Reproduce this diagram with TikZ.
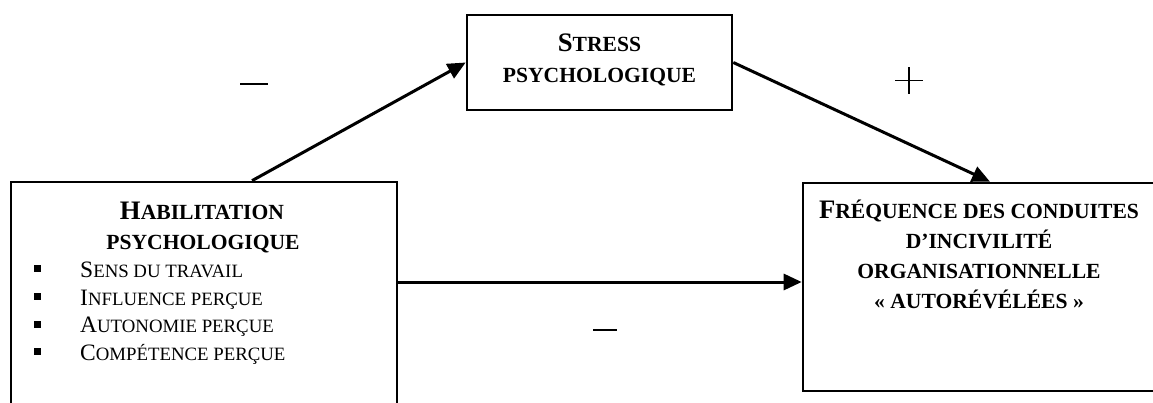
\documentclass[tikz,border=0pt]{standalone}
\usepackage{fontspec}
\setmainfont{Liberation Serif}
\usetikzlibrary{arrows.meta,calc}

% fake small capitals: large initial, smaller upper-case rest
\newcommand\hdbig[1]{{\fontsize{26.7pt}{30pt}\selectfont #1}}
\newcommand\hdsmall[1]{{\fontsize{21.6pt}{30pt}\selectfont #1}}
\newcommand\itbig[1]{{\fontsize{23.5pt}{28pt}\selectfont #1}}
\newcommand\itsmall[1]{{\fontsize{18.8pt}{28pt}\selectfont #1}}

\begin{document}
\begin{tikzpicture}[x=1pt,y=-1pt,
  box/.style={draw, line width=2.6pt, inner sep=0pt, rectangle},
  heading/.style={font=\bfseries, inner sep=0pt, anchor=base},
  itemtext/.style={inner sep=0pt, anchor=base west},
  bulletsq/.style={fill, inner sep=0pt, minimum size=7pt, rectangle},
  link/.style={line width=3pt, -{Triangle[length=18pt,width=16pt]}},
  sign/.style={line width=1.3pt}]
\useasboundingbox (0,0) rectangle (1153,403);
\clip (0,0) rectangle (1153,403);

% the three boxes
\node[box, minimum width=265pt, minimum height=95pt] (stress) at (599.5,62.5) {};
\node[box, minimum width=386pt, minimum height=238pt] (hab) at (204,301) {};
\node[box, minimum width=359pt, minimum height=208pt] (incivil) at (982.5,287) {};

% box titles
\node[heading] (st1) at (599.5,51.7) {\hdbig{S}\hdsmall{TRESS}};
\node[heading] (st2) at (599.5,82.7) {\hdsmall{PSYCHOLOGIQUE}};

\node[heading] (hb1) at (202,219.3) {\hdbig{H}\hdsmall{ABILITATION}};
\node[heading] (hb2) at (203,249.3) {\hdsmall{PSYCHOLOGIQUE}};

\node[heading] (ic1) at (979,218.3) {\hdbig{F}\hdsmall{RÉQUENCE DES CONDUITES}};
\node[heading] (ic2) at (979,248.3) {\hdsmall{D’INCIVILITÉ}};
\node[heading] (ic3) at (979,278.3) {\hdsmall{ORGANISATIONNELLE}};
\node[heading] (ic4) at (979,308.3) {\hdsmall{« AUTORÉVÉLÉES »}};

% dimensions of empowerment
\node[bulletsq] (b1) at (37.5,268.8) {};
\node[bulletsq] (b2) at (37.5,296.5) {};
\node[bulletsq] (b3) at (37.5,324.2) {};
\node[bulletsq] (b4) at (37.5,351.8) {};
\node[itemtext] (i1) at (80,277.3) {\itbig{S}\itsmall{ENS DU TRAVAIL}};
\node[itemtext] (i2) at (80,305.0) {\itbig{I}\itsmall{NFLUENCE PERÇUE}};
\node[itemtext] (i3) at (80,332.7) {\itbig{A}\itsmall{UTONOMIE PERÇUE}};
\node[itemtext] (i4) at (80,360.3) {\itbig{C}\itsmall{OMPÉTENCE PERÇUE}};

% paths of the model
\draw[link] ([xshift=48pt]hab.north) -- (stress.west);
\draw[link] (stress.east) -- ([xshift=7.5pt]incivil.north);
\draw[link] ([yshift=19pt]hab.east) -- ([yshift=19pt]hab.east -| incivil.west);

% signs of the effects
\coordinate (sgA) at (254,84);
\coordinate (sgB) at (909,80.5);
\coordinate (sgC) at (605,330);
\draw[sign] ([xshift=-14pt]sgA) -- ([xshift=14pt]sgA);
\draw[sign] ([xshift=-14pt]sgB) -- ([xshift=14pt]sgB)
            ([yshift=-13.5pt]sgB) -- ([yshift=13.5pt]sgB);
\draw[sign] ([xshift=-12pt]sgC) -- ([xshift=12pt]sgC);
\end{tikzpicture}
\end{document}
